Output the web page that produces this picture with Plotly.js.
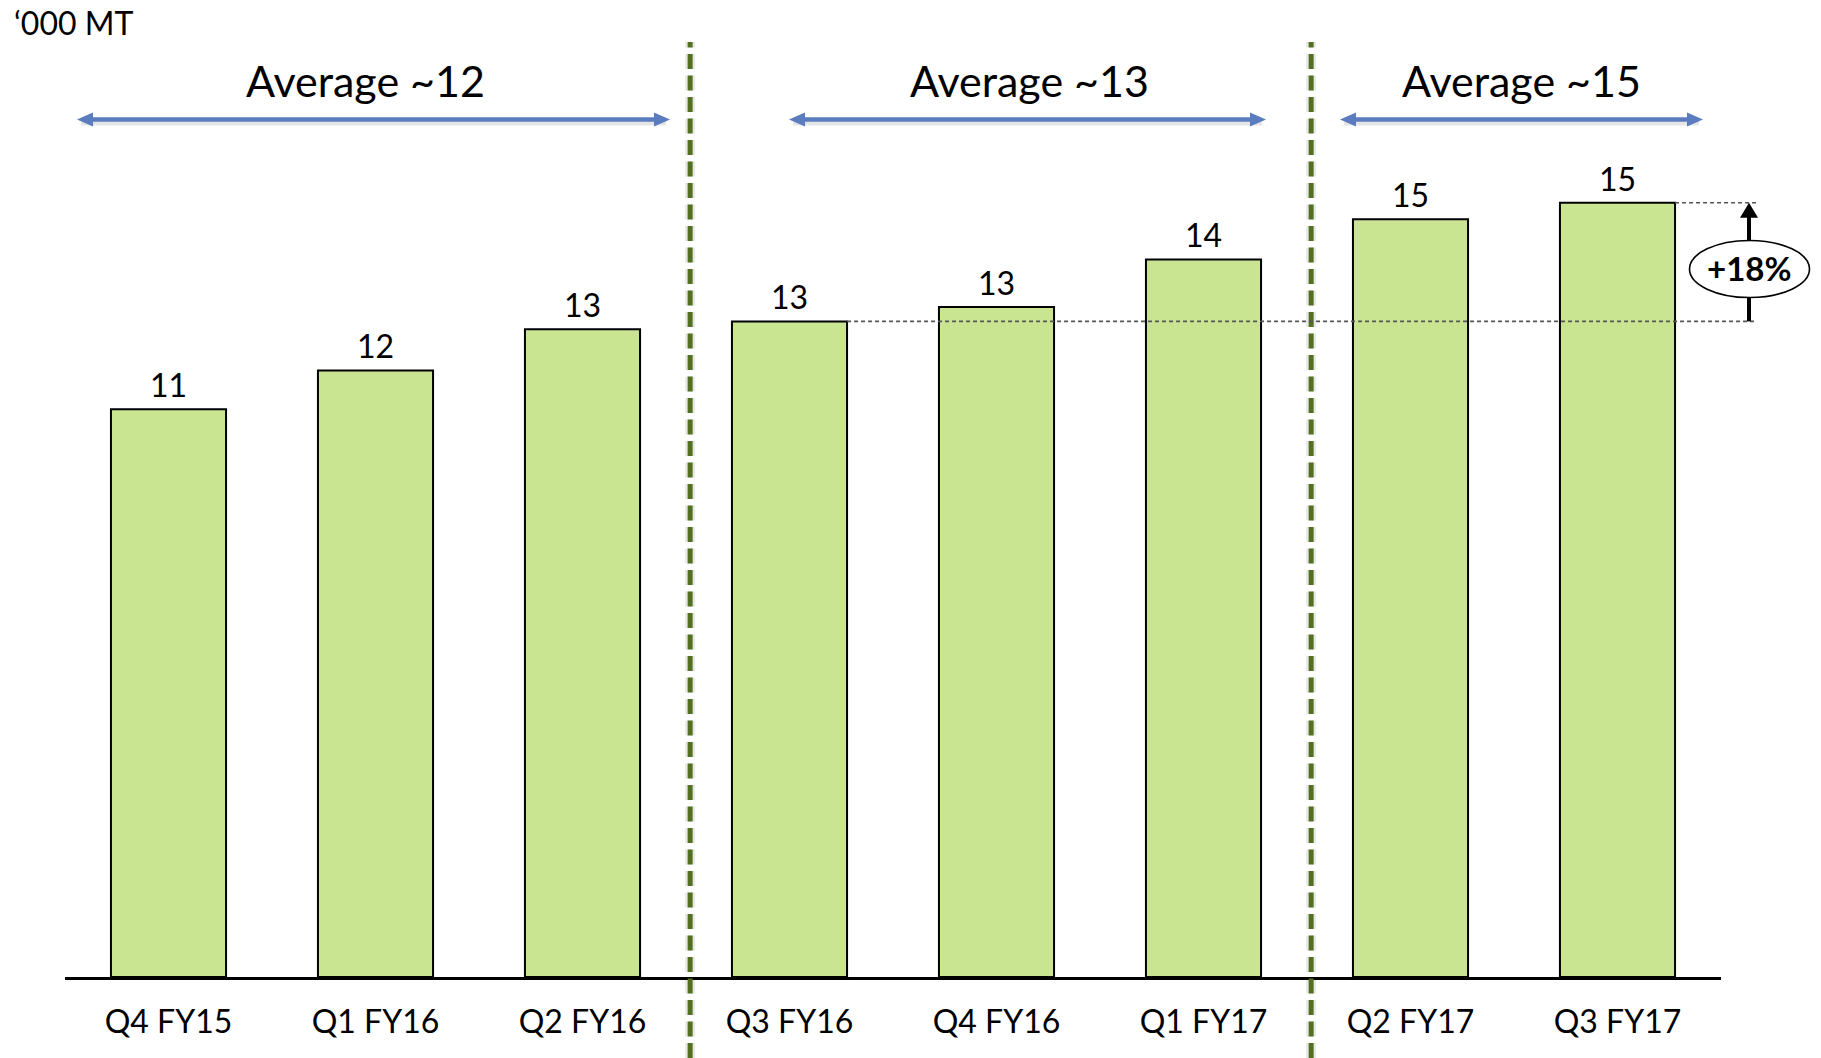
<!DOCTYPE html>
<html>
<head>
<meta charset="utf-8">
<script src="https://cdn.plot.ly/plotly-3.0.1.min.js"></script>
<style>
  html, body { margin: 0; padding: 0; background: #ffffff; }
  #chart { width: 1821px; height: 1058px; }
</style>
</head>
<body>
<div id="chart"></div>
<script>
// Quarterly volumes, thousand metric tonnes
const quarters = ['Q4 FY15', 'Q1 FY16', 'Q2 FY16', 'Q3 FY16', 'Q4 FY16', 'Q1 FY17', 'Q2 FY17', 'Q3 FY17'];
const volumes  = [11.0, 11.75, 12.55, 12.7, 12.98, 13.9, 14.68, 15.0];

// Periods averaged above the bars (first and last quarter index of each)
const periodFirst = [0, 3, 6];
const periodLast  = [2, 5, 7];

// Growth callout: from this quarter to that one
const growthFrom = 3;
const growthTo   = 7;

const unitLabel = '\u2018000 MT';

// ---- page geometry ----
const W = 1821, H = 1058;
const M = { l: 65, r: 100, t: 22, b: 81, pad: 0 };
const plotW = W - M.l - M.r;
const plotH = H - M.t - M.b;
const yMax = 18.5;
const nCat = quarters.length;
const barGap = 0.444;
const halfBar = (1 - barGap) / 2;

// coordinate helpers (paper fractions)
const catX = c => (c + 0.5) / nCat;
const valY = v => v / yMax;
const pxX = px => (px - M.l) / plotW;
const pxY = py => (H - M.b - py) / plotH;

const FONT = 'Lato, "Noto Sans", sans-serif';
const barGreen = '#c9e592';
const sepGreen = '#52701f';
const arrowBlue = '#5b7cbf';

// horizontal extent (px) of each period's double arrow and its caption centre
const arrowSpan = [[77, 670], [789, 1266], [1340, 1703]];
const captionX = [365, 1029, 1521];
const arrowRowY = 119.5;

const shapes = [];
const annotations = [];

// dashed separators between periods (with a soft shadow)
periodLast.slice(0, -1).forEach(last => {
  const xs = catX(last + 0.52);
  shapes.push({ type: 'line', xref: 'paper', yref: 'paper', x0: xs, x1: xs,
    y0: pxY(1058), y1: pxY(42), line: { color: 'rgba(0,0,0,0.09)', width: 10, dash: '15px,6.5px' } });
  shapes.push({ type: 'line', xref: 'paper', yref: 'paper', x0: xs, x1: xs,
    y0: pxY(1058), y1: pxY(42), line: { color: sepGreen, width: 5, dash: '15px,6.5px' } });
});

// double-headed arrows with period averages
function addDoubleArrow(a, b, y) {
  const head = 16, half = 7;
  shapes.push({ type: 'line', xref: 'paper', yref: 'paper',
    x0: pxX(a + 4), x1: pxX(b - 4), y0: pxY(y + 3), y1: pxY(y + 3),
    line: { color: 'rgba(0,0,0,0.10)', width: 6 } });
  shapes.push({ type: 'line', xref: 'paper', yref: 'paper',
    x0: pxX(a + head - 2), x1: pxX(b - head + 2), y0: pxY(y), y1: pxY(y),
    line: { color: arrowBlue, width: 4.5 } });
  const tri = (tip, base) => `M ${pxX(tip)} ${pxY(y)} L ${pxX(base)} ${pxY(y - half)} L ${pxX(base)} ${pxY(y + half)} Z`;
  shapes.push({ type: 'path', xref: 'paper', yref: 'paper', path: tri(a, a + head),
    fillcolor: arrowBlue, line: { width: 0 } });
  shapes.push({ type: 'path', xref: 'paper', yref: 'paper', path: tri(b, b - head),
    fillcolor: arrowBlue, line: { width: 0 } });
}

periodFirst.forEach((first, k) => {
  const last = periodLast[k];
  const slice = volumes.slice(first, last + 1);
  const avg = slice.reduce((s, v) => s + v, 0) / slice.length;
  const [a, b] = arrowSpan[k];
  addDoubleArrow(a, b, arrowRowY);
  annotations.push({
    xref: 'paper', yref: 'paper', x: pxX(captionX[k]), y: pxY(81),
    xanchor: 'center', yanchor: 'middle', showarrow: false,
    text: 'Average ~' + Math.round(avg),
    font: { family: FONT, size: 43, color: '#000000' }
  });
});

// growth callout: dashed reference lines, arrow and ellipse
const guideEnd = pxX(1757);
[growthFrom, growthTo].forEach(i => {
  shapes.push({ type: 'line', xref: 'paper', yref: 'paper',
    x0: catX(i + halfBar), x1: guideEnd, y0: valY(volumes[i]), y1: valY(volumes[i]),
    line: { color: '#555555', width: 1.6, dash: '4px,3px' } });
});
const gx = pxX(1749);
const headLen = 15 / plotH, headHalf = 9 / plotW;
const yLow = valY(volumes[growthFrom]);
const yHigh = valY(volumes[growthTo]);
shapes.push({ type: 'line', xref: 'paper', yref: 'paper', x0: gx, x1: gx,
  y0: yLow, y1: yHigh - headLen + 1 / plotH, line: { color: '#000000', width: 4 } });
shapes.push({ type: 'path', xref: 'paper', yref: 'paper',
  path: `M ${gx} ${yHigh} L ${gx - headHalf} ${yHigh - headLen} L ${gx + headHalf} ${yHigh - headLen} Z`,
  fillcolor: '#000000', line: { width: 0 } });
shapes.push({ type: 'circle', xref: 'paper', yref: 'paper',
  x0: pxX(1749.5 - 60), x1: pxX(1749.5 + 60), y0: pxY(269 + 28.5), y1: pxY(269 - 28.5),
  fillcolor: '#ffffff', line: { color: '#000000', width: 1.6 } });
const growthPct = Math.round((volumes[growthTo] / volumes[growthFrom] - 1) * 100);
annotations.push({
  xref: 'paper', yref: 'paper', x: pxX(1749), y: pxY(268),
  xanchor: 'center', yanchor: 'middle', showarrow: false,
  text: '<b>+' + growthPct + '%</b>',
  font: { family: FONT, size: 33, color: '#000000' }
});

// value labels above the bars
volumes.forEach((v, i) => {
  annotations.push({
    xref: 'x', yref: 'y', x: i, y: v, xanchor: 'center', yanchor: 'bottom',
    yshift: 3, showarrow: false, text: v.toFixed(0),
    font: { family: FONT, size: 32, color: '#000000' }
  });
});

// unit label
annotations.push({
  xref: 'paper', yref: 'paper', x: pxX(12), y: pxY(22),
  xanchor: 'left', yanchor: 'middle', showarrow: false, text: unitLabel,
  font: { family: FONT, size: 32, color: '#000000' }
});

const trace = {
  type: 'bar',
  x: quarters,
  y: volumes,
  marker: { color: barGreen, line: { color: '#000000', width: 2 } },
  hoverinfo: 'x+y'
};

const layout = {
  width: W, height: H,
  margin: M,
  paper_bgcolor: '#ffffff',
  plot_bgcolor: '#ffffff',
  showlegend: false,
  bargap: barGap,
  font: { family: FONT, color: '#000000' },
  xaxis: {
    type: 'category', range: [-0.5, nCat - 0.5],
    showline: true, linecolor: '#000000', linewidth: 2.5,
    showgrid: false, zeroline: false, ticks: '',
    ticklabelstandoff: 15,
    tickfont: { family: FONT, size: 32, color: '#000000' }
  },
  yaxis: {
    range: [0, yMax], visible: false, showgrid: false, zeroline: false
  },
  shapes: shapes,
  annotations: annotations
};

Plotly.newPlot('chart', [trace], layout, { displayModeBar: false, staticPlot: true });
</script>
</body>
</html>
